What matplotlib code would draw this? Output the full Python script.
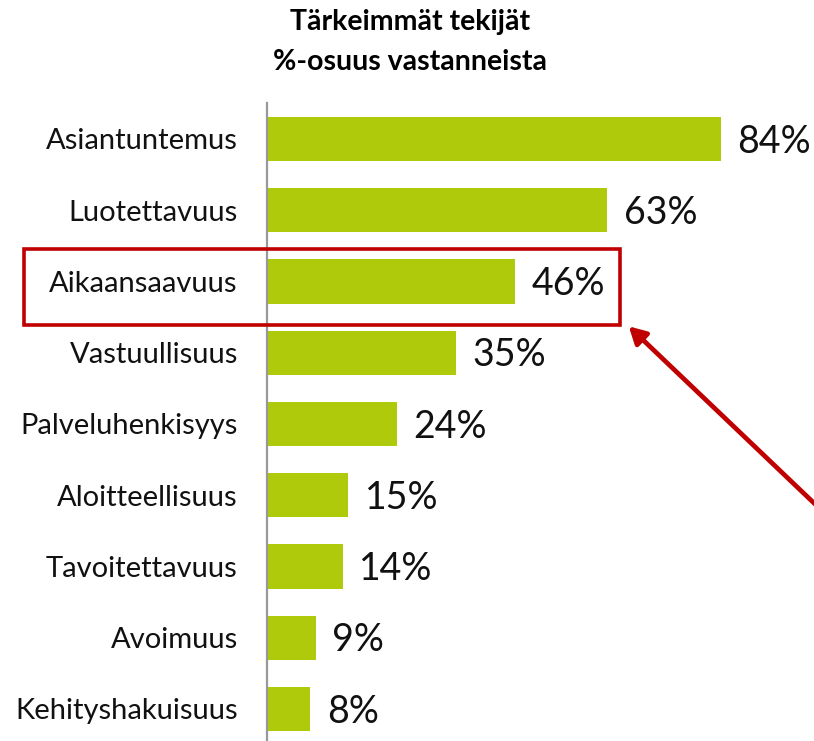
import matplotlib
matplotlib.use("Agg")
import matplotlib.pyplot as plt
from matplotlib.patches import Rectangle

# data
categories = ['Asiantuntemus', 'Luotettavuus', 'Aikaansaavuus', 'Vastuullisuus',
              'Palveluhenkisyys', 'Aloitteellisuus', 'Tavoitettavuus', 'Avoimuus',
              'Kehityshakuisuus']
values = [84, 63, 46, 35, 24, 15, 14, 9, 8]
title_lines = ['Tärkeimmät tekijät', '%-osuus vastanneista']
highlight = 'Aikaansaavuus'

bar_color = '#afca0b'
red = '#c00000'

plt.rcParams['font.family'] = ['Lato', 'DejaVu Sans']

fig = plt.figure(figsize=(8.14, 7.41), dpi=100)
ax = fig.add_axes([267 / 814, 0, 547 / 814, 638 / 741])

ypos = list(range(len(categories)))
bars = ax.barh(ypos, values, height=0.62, color=bar_color)

ax.set_xlim(0, 101.3)
ax.set_ylim(len(categories) - 1 + 0.45, -0.505)
ax.set_yticks(ypos)
ax.set_yticklabels(categories, fontsize=21, color='#111111')
ax.tick_params(axis='y', length=0, pad=21)
ax.set_xticks([])
for side in ['top', 'right', 'bottom']:
    ax.spines[side].set_visible(False)
ax.spines['left'].set_color('#999999')
ax.spines['left'].set_linewidth(1.6)

for b, v in zip(bars, values):
    ax.annotate(f'{v}%', xy=(b.get_width(), b.get_y() + b.get_height() / 2),
                xytext=(12, -2), textcoords='offset points',
                ha='left', va='center', fontsize=27, color='#111111')

fig.text(0.504, 0.970, title_lines[0], ha='center', va='center',
         fontsize=20.5, fontweight='bold')
fig.text(0.504, 0.916, title_lines[1], ha='center', va='center',
         fontsize=20.5, fontweight='bold')

# highlight box around one row
hi = categories.index(highlight)
box = Rectangle((-45, hi - 0.46), 110.4, 1.07, fill=False, edgecolor=red,
                linewidth=2.6, clip_on=False, zorder=5)
ax.add_patch(box)

# arrow pointing at the box
ax.annotate('', xy=(67.0, hi + 0.63), xytext=(110, hi + 3.74),
            arrowprops=dict(arrowstyle='-|>,head_length=1.0,head_width=0.55',
                            color=red, lw=3.4, shrinkA=0, shrinkB=0),
            annotation_clip=False)

fig.savefig('out.png', dpi=100)
